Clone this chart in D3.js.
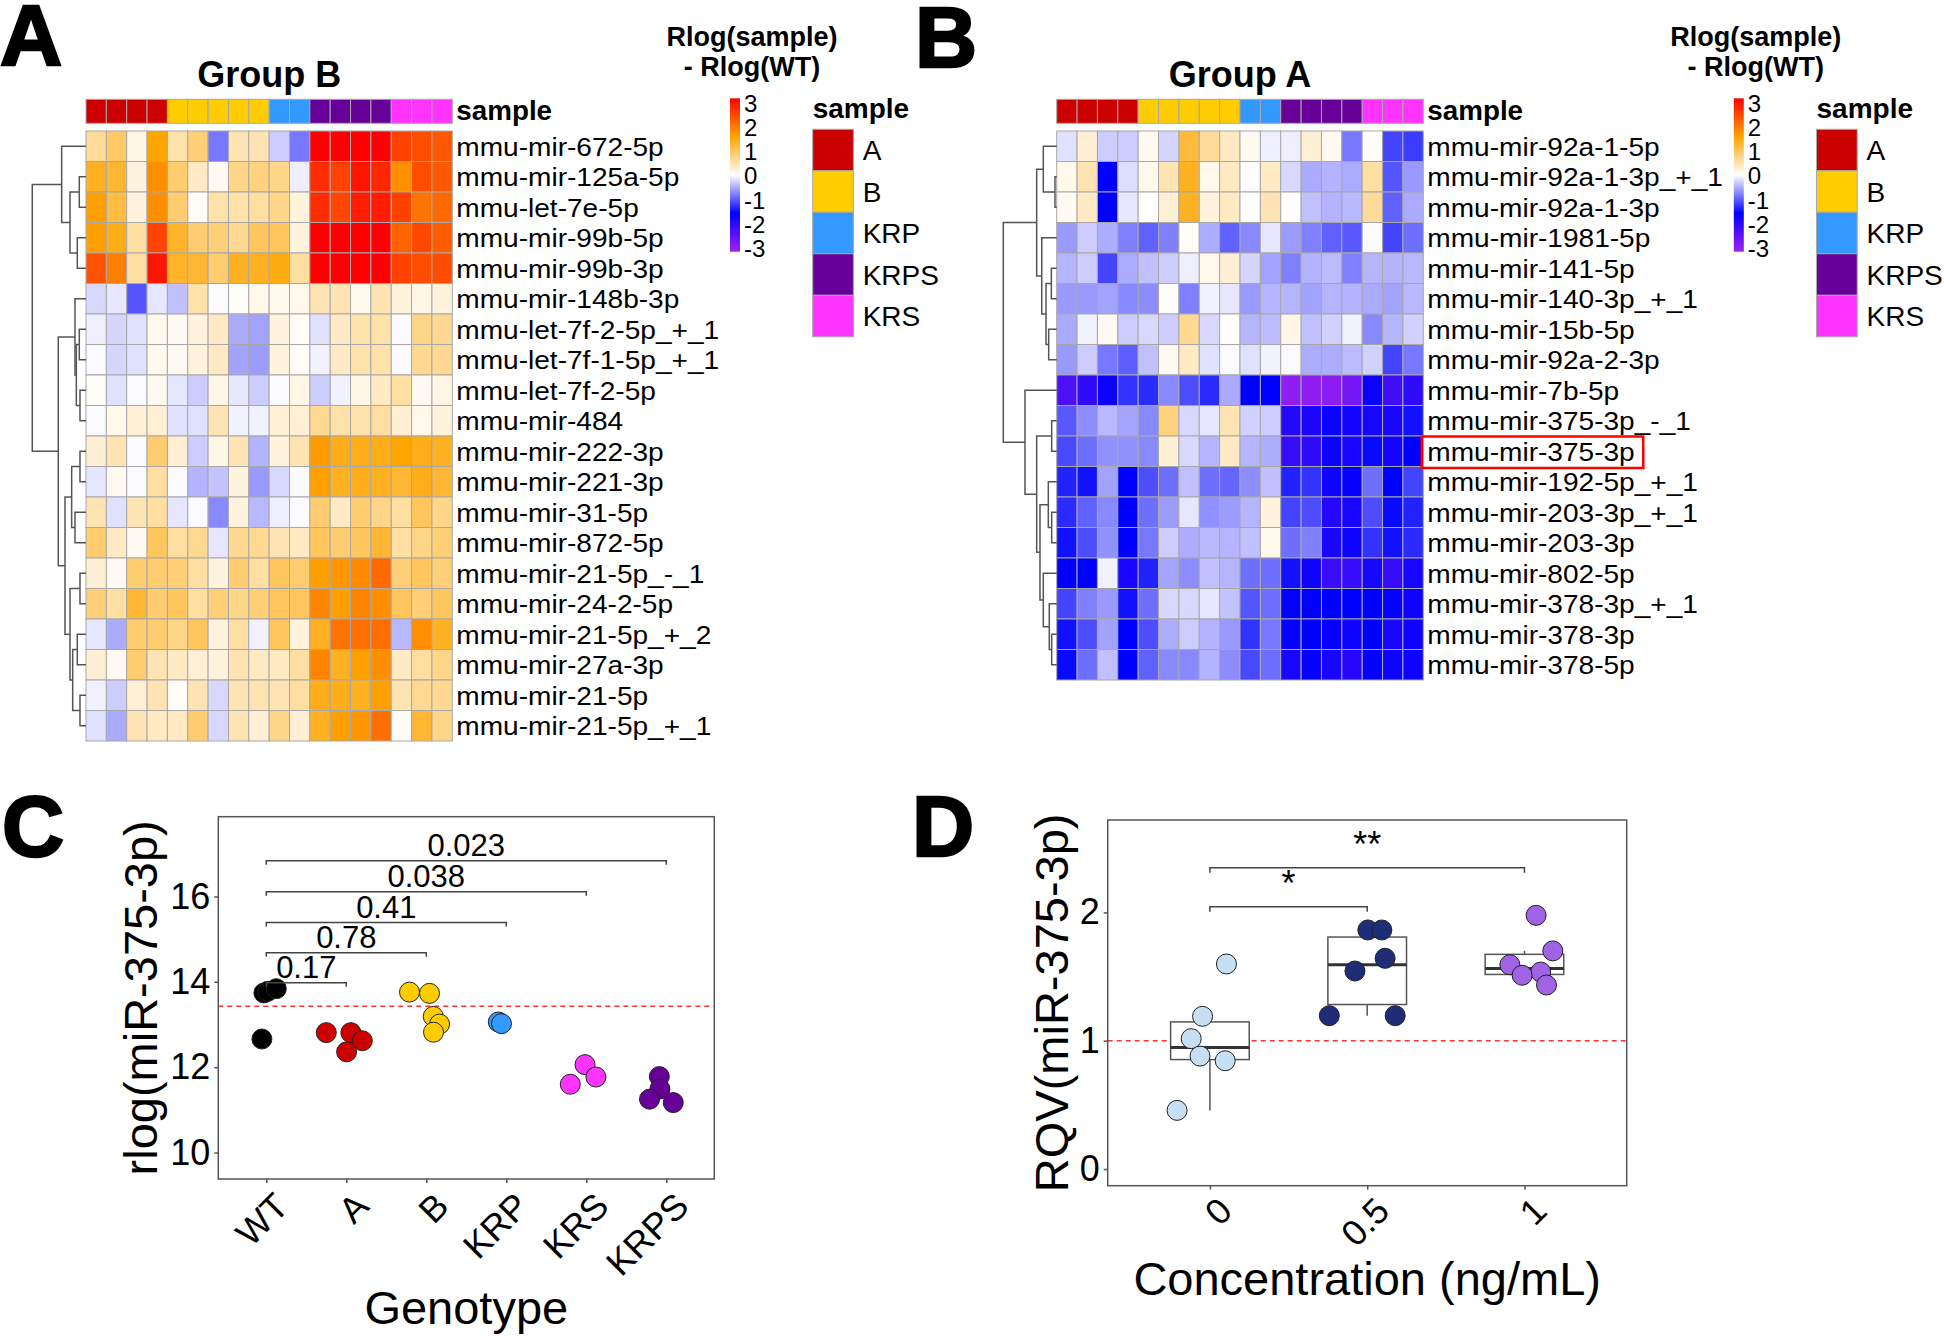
<!DOCTYPE html>
<html><head><meta charset="utf-8">
<script src="https://cdn.jsdelivr.net/npm/d3@7"></script>
<style>
body{margin:0;background:#fff}
svg{display:block}
text{font-family:"Liberation Sans",Arial,Helvetica,sans-serif;fill:#000}
</style>
</head><body>
<svg id="fig" width="1944" height="1342"></svg>
<script>
// ---------------- DATA ----------------
const sampleGroups = ["A","A","A","A","B","B","B","B","B","KRP","KRP","KRPS","KRPS","KRPS","KRPS","KRS","KRS","KRS"];
const groupNames = ["A","B","KRP","KRPS","KRS"];
const groupColors = ["#CC0000","#FFCC00","#3399FF","#660099","#FF33FF"];
const legendTicks = [3,2,1,0,-1,-2,-3];

const rowsA = ["mmu-mir-672-5p","mmu-mir-125a-5p","mmu-let-7e-5p","mmu-mir-99b-5p","mmu-mir-99b-3p",
  "mmu-mir-148b-3p","mmu-let-7f-2-5p_+_1","mmu-let-7f-1-5p_+_1","mmu-let-7f-2-5p","mmu-mir-484",
  "mmu-mir-222-3p","mmu-mir-221-3p","mmu-mir-31-5p","mmu-mir-872-5p","mmu-mir-21-5p_-_1",
  "mmu-mir-24-2-5p","mmu-mir-21-5p_+_2","mmu-mir-27a-3p","mmu-mir-21-5p","mmu-mir-21-5p_+_1"];
const valuesA = [
 [0.6,0.9,0.15,1.5,0.5,0.8,-0.8,0.45,0.45,-0.3,-0.8,3,3,3,3,2.4,2.3,2.2],
 [1.3,1.2,0.2,1.7,0.85,0.35,0.08,0.7,0.75,0.7,-0.1,2.6,2.4,2.8,2.65,1.7,2.3,2.2],
 [1.55,1.1,0.2,1.7,0.85,0.05,0.5,0.5,0.55,0.7,0.2,2.6,2.35,2.75,2.75,2.4,1.95,2.05],
 [1.55,1.35,0.55,2.4,1.25,0.85,0.8,0.65,0.95,0.95,0.2,3,3,3,3,2.1,2.35,2.15],
 [2.25,1.85,0.55,2.8,1.25,1.2,0.85,1.3,1.3,1.4,0.55,3,3,3,3,2.4,2.3,2.3],
 [-0.23,-0.15,-1.0,-0.15,-0.37,0.5,-0.03,0.03,0.12,0.1,0.12,0.45,0.45,0.1,0.45,0.2,0.15,0.2],
 [-0.1,-0.25,-0.18,0.1,0.08,0.2,0.35,-0.5,-0.55,0.2,0.05,-0.18,0.35,0.5,0.5,-0.03,0.7,0.65],
 [-0.03,-0.25,-0.18,0.1,0.08,0.2,0.35,-0.55,-0.58,0.2,0.05,-0.08,0.35,0.5,0.5,-0.03,0.65,0.65],
 [0.03,-0.18,-0.03,0.08,-0.15,-0.3,0.15,-0.15,-0.3,-0.03,0.15,-0.3,-0.08,0.15,0.35,0.55,0.08,0.15],
 [-0.03,0.12,0.25,0.25,-0.18,-0.18,0.45,-0.08,-0.08,0.25,0.25,0.65,0.5,0.5,0.55,0.25,0.12,0.2],
 [0.25,0.45,-0.03,0.85,0.25,-0.3,0.15,0.45,-0.45,0.2,0.45,1.6,1.35,1.35,1.35,1.5,1.35,1.3],
 [-0.15,0.08,-0.03,0.55,-0.03,-0.45,-0.35,0.2,-0.6,-0.23,-0.03,1.55,1.3,1.35,1.3,1.2,1.35,1.2],
 [0.45,-0.18,0.45,0.55,-0.15,-0.03,-0.7,0.2,-0.42,-0.1,-0.03,0.85,0.35,0.85,0.7,0.55,0.95,0.7],
 [0.85,0.35,0.08,0.95,0.55,0.65,-0.15,0.65,0.65,0.45,0.35,0.95,0.85,0.95,1.2,0.55,0.7,0.8],
 [0.25,0.08,0.85,0.85,0.8,0.55,0.2,0.85,0.55,0.95,0.85,1.55,1.65,1.75,2.05,0.8,0.95,0.8],
 [0.8,0.55,1.2,0.85,0.95,0.55,0.8,0.7,0.8,0.95,0.95,1.8,1.55,1.8,1.7,0.95,0.8,0.95],
 [-0.15,-0.5,0.85,0.85,0.7,0.95,0.2,0.55,-0.08,0.95,0.2,1.3,1.95,2.0,2.0,-0.42,1.7,1.3],
 [0.25,0.08,0.85,0.45,0.35,0.25,0.2,0.45,0.35,0.35,0.55,1.8,1.3,1.55,1.7,0.35,0.55,0.7],
 [-0.08,-0.3,0.25,0.45,0.05,0.45,-0.23,0.45,0.45,0.45,0.55,1.35,1.35,1.3,1.55,0.45,0.65,0.65],
 [-0.18,-0.5,0.45,0.35,0.35,0.85,-0.23,0.45,0.25,0.7,0.25,1.3,1.55,1.65,2.0,0.05,1.2,0.7]
];
// dendrogram: [height, left, right]; leaves are row indices
const treeA = [1,
  [0.453, 0, [0.298, [0.125,1,2], [0.162,3,4]]],
  [0.516,
    [0.205, 5, [0.18, [0.125,6,7], [0.112,8,9]]],
    [0.391,
      [0.267, [0.112,10,11], [0.205,12,13]],
      [0.298, [0.112,14,15], [0.248, [0.162,16,17], [0.112,18,19]]]]]];

const rowsB = ["mmu-mir-92a-1-5p","mmu-mir-92a-1-3p_+_1","mmu-mir-92a-1-3p","mmu-mir-1981-5p","mmu-mir-141-5p",
  "mmu-mir-140-3p_+_1","mmu-mir-15b-5p","mmu-mir-92a-2-3p","mmu-mir-7b-5p","mmu-mir-375-3p_-_1",
  "mmu-mir-375-3p","mmu-mir-192-5p_+_1","mmu-mir-203-3p_+_1","mmu-mir-203-3p","mmu-mir-802-5p",
  "mmu-mir-378-3p_+_1","mmu-mir-378-3p","mmu-mir-378-5p"];
const valuesB = [
 [-0.18,0.25,-0.3,-0.3,0.08,-0.25,1.15,0.6,0.35,0.08,-0.1,-0.1,0.25,0.08,-0.8,0.02,-1.1,-1.15],
 [0.12,0.45,-1.5,-0.2,0.12,0.45,1.3,0.12,0.35,-0.02,0.35,-0.23,-0.5,-0.45,-0.5,0.55,-1.0,-0.6],
 [0.08,0.35,-1.5,-0.15,0.02,0.25,1.3,0.2,0.35,0.02,0.45,0.02,-0.37,-0.45,-0.42,0.6,-0.93,-0.5],
 [-0.6,-0.3,-0.48,-0.75,-0.93,-0.75,0.05,-0.48,-0.93,-0.7,-0.15,-0.58,-0.75,-0.93,-0.98,-0.03,-1.1,-0.85],
 [-0.44,-0.3,-1.1,-0.5,-0.37,-0.3,-0.1,0.12,0.25,-0.25,-0.55,-0.75,-0.45,-0.4,-0.75,-0.44,-0.45,-0.42],
 [-0.6,-0.6,-0.55,-0.7,-0.67,-0.02,-0.75,-0.08,-0.15,-0.6,-0.44,-0.44,-0.55,-0.44,-0.45,-0.5,-0.55,-0.42],
 [-0.5,-0.08,0.08,-0.3,-0.23,-0.3,0.65,-0.23,0.02,-0.44,-0.4,0.15,-0.37,-0.27,-0.08,-0.7,-0.44,-0.27],
 [-0.6,-0.3,-0.8,-0.95,-0.37,0.08,0.35,-0.18,-0.03,-0.18,-0.08,-0.03,-0.48,-0.48,-0.4,-0.27,-1.1,-0.8],
 [-2.2,-1.95,-1.6,-1.2,-1.25,-0.7,-1.05,-1.25,-0.5,-1.5,-1.5,-2.85,-2.85,-2.8,-2.6,-1.6,-2.1,-1.95],
 [-0.98,-0.67,-0.42,-0.53,-0.7,0.75,-0.23,-0.15,0.45,-0.27,-0.3,-1.85,-1.75,-1.6,-1.68,-1.72,-1.72,-1.4],
 [-1.07,-0.85,-0.65,-0.65,-0.7,0.25,-0.23,-0.44,0.35,-0.44,-0.48,-2.0,-1.95,-1.6,-1.72,-1.45,-1.68,-1.5],
 [-1.3,-1.4,-0.55,-1.5,-1.05,-0.85,-0.37,-0.85,-0.9,-0.67,-0.37,-1.3,-1.2,-1.62,-1.56,-0.85,-1.5,-1.1],
 [-1.25,-0.93,-0.7,-1.5,-0.85,-0.58,-0.15,-0.65,-0.58,-0.44,0.2,-1.1,-1.05,-1.85,-1.72,-1.05,-1.45,-1.3],
 [-1.4,-1.05,-0.65,-1.5,-0.8,-0.3,-0.48,-0.42,-0.44,-0.37,0.12,-0.85,-0.75,-1.72,-1.62,-1.2,-1.4,-1.25],
 [-1.5,-1.5,-0.08,-1.72,-1.3,-0.53,-0.67,-0.37,-0.44,-0.85,-0.85,-1.4,-1.62,-2.05,-2.0,-1.72,-2.0,-1.72],
 [-1.1,-0.75,-0.6,-1.4,-0.85,-0.23,-0.23,-0.15,-0.35,-1.0,-0.85,-1.5,-1.5,-1.5,-1.5,-1.5,-1.56,-1.62],
 [-1.4,-1.05,-0.55,-1.5,-1.05,-0.48,-0.3,-0.45,-0.6,-1.2,-0.8,-1.56,-1.5,-1.56,-1.62,-1.5,-1.72,-1.62],
 [-1.45,-0.85,-0.37,-1.5,-0.93,-0.7,-0.7,-0.45,-0.67,-1.07,-0.85,-1.72,-1.56,-1.72,-1.85,-1.56,-1.62,-1.62]
];
const treeB = [1,
  [0.375, [0.251, 0, [0.032,1,2]], [0.28, 3, [0.2, [0.10,4,5], [0.15,6,7]]]],
  [0.594, 8,
    [0.375, [0.094,9,10],
      [0.313, [0.157, 11, [0.094,12,13]], [0.251, 14, [0.139, 15, [0.094,16,17]]]]]]];
const highlightRowB = "mmu-mir-375-3p";

// Panel C
const genotypes = ["WT","A","B","KRP","KRS","KRPS"];
const genotypeColors = ["#000000","#CC0000","#FFCC00","#3399FF","#FF33FF","#660099"];
const cGenotype = ["WT","WT","WT","WT","A","A","A","A","B","B","B","B","B","KRP","KRP","KRS","KRS","KRS","KRPS","KRPS","KRPS","KRPS"];
const cRlog = [13.74,13.78,13.84,12.66, 12.81,12.81,12.62,12.36, 13.76,13.73,13.19,13.01,12.82, 13.06,13.02, 12.06,11.77,11.60, 11.78,11.49,11.25,11.17];
const cJitter = [-0.03,0.02,0.125,-0.055, -0.25,0.057,0.2,0.004, -0.21,0.04,0.087,0.166,0.09, -0.10,-0.06, -0.016,0.12,-0.2, -0.087,-0.08,-0.21,0.087];
const cTicks = [10,12,14,16];
const cRef = 13.43;
const cPairs = [["WT","A"],["WT","B"],["WT","KRP"],["WT","KRS"],["WT","KRPS"]];
const cPvals = ["0.17","0.78","0.41","0.038","0.023"];
const cBracketY = [13.98,14.68,15.39,16.11,16.84];

// Panel D
const concs = ["0","0.5","1"];
const concColors = ["#C6DFF5","#1F2D78","#A063E6"];
const dConc = ["0","0","0","0","0","0","0.5","0.5","0.5","0.5","0.5","0.5","1","1","1","1","1","1"];
const dRQV = [1.598,1.19,1.016,0.88,0.844,0.457, 1.863,1.863,1.642,1.543,1.195,1.195, 1.977,1.70,1.592,1.535,1.51,1.434];
const dJitter = [0.105,-0.047,-0.119,-0.063,0.097,-0.209, 0.004,0.093,0.114,-0.078,-0.241,0.178, 0.074,0.18,-0.093,0.103,-0.015,0.14];
const dTicks = [0,1,2];
const dRef = 1;
const dPairs = [["0","0.5"],["0","1"]];
const dSig = ["*","**"];
const dBracketY = [2.044,2.348];

// ---------------- DRAWING ----------------
const svg = d3.select("#fig");
svg.append("rect").attr("width",1944).attr("height",1342).attr("fill","#fff");

const heatColor = d3.scaleLinear()
  .domain([-3,-1.5,0,1.5,3])
  .range(["#A020F0","#0000FF","#FFFFFF","#FFA500","#FF0000"])
  .clamp(true);
const groupColor = d3.scaleOrdinal().domain(groupNames).range(groupColors);
const ROW_H = 30.5, ROW_TOP = 131;

function panelLetter(t,x,y){
  svg.append("text").attr("x",x).attr("y",y).text(t)
    .style("font-size","86px").style("font-weight","bold")
    .attr("stroke","#000").attr("stroke-width",2.5);
}

function heatmap(o){
  const g = svg.append("g");
  const x = d3.scaleBand().domain(d3.range(sampleGroups.length)).range([o.x0,o.x1]);
  const y = d3.scaleBand().domain(o.rows).range([ROW_TOP, ROW_TOP + ROW_H*o.rows.length]);
  // annotation bar
  g.selectAll("rect.ann").data(sampleGroups).join("rect")
    .attr("x",(d,i)=>x(i)).attr("y",99.3).attr("width",x.bandwidth()).attr("height",24)
    .attr("fill",d=>groupColor(d)).attr("stroke","#A8A8A8").attr("stroke-width",1);
  // cells
  o.rows.forEach((r,ri)=>{
    g.selectAll(null).data(o.values[ri]).join("rect")
      .attr("x",(d,i)=>x(i)).attr("y",y(r)).attr("width",x.bandwidth()).attr("height",y.bandwidth())
      .attr("fill",d=>heatColor(d)).attr("stroke","#A8A8A8").attr("stroke-width",1);
  });
  // row labels
  o.rows.forEach(r=>{
    g.append("text").attr("class","rl")
      .attr("transform",`translate(${o.x1+4},${y(r)+y.bandwidth()/2}) scale(1.08,1)`)
      .attr("dy","0.36em").text(r).style("font-size","26px");
  });
  g.append("text").attr("transform",`translate(${o.x1+4},120) scale(1.03,1)`).text("sample")
    .style("font-size","27px").style("font-weight","bold");
  // title
  g.append("text").attr("x",(o.x0+o.x1)/2).attr("y",87).attr("text-anchor","middle")
    .text(o.title).style("font-size","36px").style("font-weight","bold");
  // dendrogram
  const xh = d3.scaleLinear().domain([0,1]).range([o.x0,o.treeX]);
  const yOf = i => y(o.rows[i]) + y.bandwidth()/2;
  (function rec(n){
    if (typeof n === "number") return {y:yOf(n),h:0};
    const a = rec(n[1]), b = rec(n[2]);
    g.append("path").attr("d",`M${xh(a.h)},${a.y}H${xh(n[0])}V${b.y}H${xh(b.h)}`)
      .attr("fill","none").attr("stroke","#555").attr("stroke-width",1.5);
    return {y:(a.y+b.y)/2,h:n[0]};
  })(o.tree);
  // highlight
  if (o.highlight){
    const t = g.selectAll("text.rl").filter(function(){return this.textContent===o.highlight;});
    const w = t.node().getBBox().width*1.08;
    g.append("rect").attr("x",o.x1-1.5).attr("y",y(o.highlight)+0.5)
      .attr("width",w+14).attr("height",y.bandwidth()+1)
      .attr("fill","none").attr("stroke","#FF0000").attr("stroke-width",2.5);
  }
  // color legend
  const lg = svg.append("g");
  const gid = "grad"+o.title.replace(/\s/g,"");
  const grad = svg.append("defs").append("linearGradient").attr("id",gid)
    .attr("x1",0).attr("x2",0).attr("y1",0).attr("y2",1);
  d3.range(0,1.0001,0.05).forEach(t=>{
    grad.append("stop").attr("offset",t).attr("stop-color",heatColor(3-6*t));
  });
  lg.append("rect").attr("x",o.barX).attr("y",98.3).attr("width",10).attr("height",153.4)
    .attr("fill",`url(#${gid})`);
  const ly = d3.scaleLinear().domain([3,-3]).range([103.3,248.3]);
  lg.selectAll("text.lt").data(legendTicks).join("text")
    .attr("x",o.barX+14).attr("y",d=>ly(d)).attr("dy","0.36em").text(d=>d)
    .style("font-size","24px");
  lg.append("text").attr("x",o.barX+22).attr("y",46).attr("text-anchor","middle")
    .text("Rlog(sample)").style("font-size","27px").style("font-weight","bold");
  lg.append("text").attr("x",o.barX+22).attr("y",76).attr("text-anchor","middle")
    .text("- Rlog(WT)").style("font-size","27px").style("font-weight","bold");
  // sample legend
  const sx = o.barX+82.7;
  lg.append("text").attr("x",sx).attr("y",118).text("sample")
    .style("font-size","28px").style("font-weight","bold");
  const sy = d3.scaleBand().domain(groupNames).range([129.3,129.3+41.5*5]);
  lg.selectAll("rect.sw").data(groupNames).join("rect")
    .attr("x",sx).attr("y",d=>sy(d)).attr("width",40.7).attr("height",sy.bandwidth())
    .attr("fill",d=>groupColor(d)).attr("stroke","#A8A8A8").attr("stroke-width",1);
  lg.selectAll("text.sl").data(groupNames).join("text")
    .attr("x",sx+50).attr("y",d=>sy(d)+sy.bandwidth()/2).attr("dy","0.36em").text(d=>d)
    .style("font-size","28px");
}

heatmap({x0:86,x1:452.3,treeX:32.3,rows:rowsA,values:valuesA,tree:treeA,title:"Group B",barX:730});
heatmap({x0:1056.7,x1:1423.3,treeX:1003.3,rows:rowsB,values:valuesB,tree:treeB,title:"Group A",barX:1733.8,highlight:highlightRowB});
panelLetter("A",0,65);
panelLetter("B",915,67);

// ---------- generic dot plot panel ----------
function dotPanel(o){
  const g = svg.append("g");
  const x = d3.scalePoint().domain(o.cats).range([o.left,o.right]).padding(o.pad);
  const y = d3.scaleLinear().domain(o.ydom).range([o.bottom,o.top]);
  const step = x.step();
  const ya = g.append("g").attr("transform",`translate(${o.left},0)`)
    .call(d3.axisLeft(y).tickValues(o.ticks).tickSize(4).tickPadding(4).tickFormat(d3.format("d")));
  ya.select(".domain").remove();
  ya.selectAll("line").attr("stroke","#555").attr("stroke-width",1.5);
  ya.selectAll("text").style("font-size","36px").attr("fill","#000");
  const xa = g.append("g").attr("transform",`translate(0,${o.bottom})`)
    .call(d3.axisBottom(x).tickSize(4).tickFormat(""));
  xa.select(".domain").remove();
  xa.selectAll("line").attr("stroke","#555").attr("stroke-width",1.5);
  g.selectAll("text.xl").data(o.cats).join("text")
    .attr("transform",d=>`translate(${x(d)+o.labDx},${o.bottom+o.labDy}) rotate(-45)`)
    .attr("text-anchor","end").attr("dy","0.72em").text(d=>d).style("font-size","36px");
  g.append("line").attr("x1",o.left).attr("x2",o.right).attr("y1",y(o.ref)).attr("y2",y(o.ref))
    .attr("stroke","#FF3333").attr("stroke-width",1.5).attr("stroke-dasharray","5,4");
  if (o.box){
    o.cats.forEach(c=>{
      const v = o.vals.filter((d,i)=>o.grp[i]===c).sort(d3.ascending);
      const q1 = d3.quantile(v,0.25), q2 = d3.quantile(v,0.5), q3 = d3.quantile(v,0.75);
      const iqr = q3-q1;
      const lo = d3.min(v.filter(d=>d>=q1-1.5*iqr)), hi = d3.max(v.filter(d=>d<=q3+1.5*iqr));
      const bw = step*0.5, cx = x(c);
      g.append("line").attr("x1",cx).attr("x2",cx).attr("y1",y(q3)).attr("y2",y(hi)).attr("stroke","#555").attr("stroke-width",1.5);
      g.append("line").attr("x1",cx).attr("x2",cx).attr("y1",y(q1)).attr("y2",y(lo)).attr("stroke","#555").attr("stroke-width",1.5);
      g.append("rect").attr("x",cx-bw/2).attr("y",y(q3)).attr("width",bw).attr("height",y(q1)-y(q3))
        .attr("fill","#fff").attr("stroke","#555").attr("stroke-width",1.5);
      g.append("line").attr("x1",cx-bw/2).attr("x2",cx+bw/2).attr("y1",y(q2)).attr("y2",y(q2))
        .attr("stroke","#333").attr("stroke-width",3);
    });
  }
  const col = d3.scaleOrdinal().domain(o.cats).range(o.colors);
  g.selectAll("circle").data(o.vals).join("circle")
    .attr("cx",(d,i)=>x(o.grp[i])+o.jit[i]*step).attr("cy",d=>y(d)).attr("r",10)
    .attr("fill",(d,i)=>col(o.grp[i])).attr("stroke","#222").attr("stroke-width",1);
  o.pairs.forEach((p,i)=>{
    const x1 = x(p[0]), x2 = x(p[1]), yy = y(o.by[i]);
    g.append("path").attr("d",`M${x1},${yy+o.tip}V${yy}H${x2}V${yy+o.tip}`)
      .attr("fill","none").attr("stroke","#444").attr("stroke-width",1.5);
    g.append("text").attr("x",(x1+x2)/2).attr("y",yy-o.labGap).attr("text-anchor","middle")
      .text(o.labels[i]).style("font-size",o.labSize);
  });
  g.append("rect").attr("x",o.left).attr("y",o.top).attr("width",o.right-o.left).attr("height",o.bottom-o.top)
    .attr("fill","none").attr("stroke","#555").attr("stroke-width",1.5);
  g.append("text").attr("transform",`translate(${o.ytx},${(o.top+o.bottom)/2}) rotate(-90)`)
    .attr("text-anchor","middle").text(o.ytitle).style("font-size","47px");
  g.append("text").attr("x",(o.left+o.right)/2).attr("y",o.xty).attr("text-anchor","middle")
    .text(o.xtitle).style("font-size","47px");
}

dotPanel({cats:genotypes,colors:genotypeColors,grp:cGenotype,vals:cRlog,jit:cJitter,
  left:218.3,right:714.3,top:816.7,bottom:1179,pad:0.6,ydom:[9.38,17.87],ticks:cTicks,ref:cRef,
  pairs:cPairs,labels:cPvals,by:cBracketY,tip:4,labGap:5,labSize:"31px",
  labDx:6,labDy:11,ytitle:"rlog(miR-375-3p)",ytx:157,xtitle:"Genotype",xty:1324,box:false});
dotPanel({cats:concs,colors:concColors,grp:dConc,vals:dRQV,jit:dJitter,
  left:1107.7,right:1626.7,top:820,bottom:1185.7,pad:0.65,ydom:[-0.13,2.72],ticks:dTicks,ref:dRef,
  pairs:dPairs,labels:dSig,by:dBracketY,tip:5,labGap:11,labSize:"36px",
  labDx:6,labDy:9,ytitle:"RQV(miR-375-3p)",ytx:1068,xtitle:"Concentration (ng/mL)",xty:1295,box:true});
panelLetter("C",2,856);
panelLetter("D",912,856);
</script>
</body></html>
